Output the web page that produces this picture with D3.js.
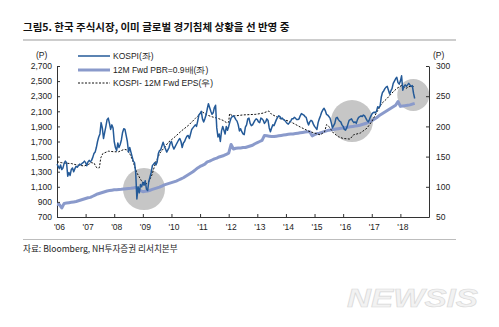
<!DOCTYPE html>
<html>
<head>
<meta charset="utf-8">
<script src="https://cdn.jsdelivr.net/npm/d3@7/dist/d3.min.js"></script>
<style>
  body { margin: 0; background: #fff; }
  svg { display: block; }
</style>
</head>
<body>
<svg id="chart" width="499" height="327"></svg>
<script>
// ---- data ----
const yearTicks = [2006, 2007, 2008, 2009, 2010, 2011, 2012, 2013, 2014, 2015, 2016, 2017, 2018];
const yearLabels = ["'06", "'07", "'08", "'09", "'10", "'11", "'12", "'13", "'14", "'15", "'16", "'17", "'18"];
const leftTicks = [700, 900, 1100, 1300, 1500, 1700, 1900, 2100, 2300, 2500, 2700];
const rightTicks = [50, 100, 150, 200, 250, 300];

// KOSPI, semi-monthly closes from Jan 2006
const kospiStart = 2006;
const kospiStep = 1 / 24;
const kospi = [
  1400, 1370, 1340, 1390, 1330, 1350, 1410, 1440, 1420, 1240, 1290, 1250, 1330, 1350, 1300, 1340, 1370, 1360, 1380, 1400, 1390, 1410, 1420, 1440,
  1420, 1380, 1430, 1450, 1430, 1450, 1490, 1540, 1560, 1620, 1700, 1760, 1800, 1950, 1880, 1740, 1820, 1900, 1990, 2010, 1940, 1860, 1920, 1880,
  1700, 1620, 1580, 1680, 1620, 1660, 1720, 1820, 1870, 1860, 1780, 1700, 1560, 1620, 1560, 1500, 1440, 1420, 1290, 940, 1100, 1020, 1130, 1100,
  1160, 1120, 1180, 1070, 1050, 1170, 1230, 1290, 1380, 1400, 1420, 1390, 1430, 1540, 1580, 1590, 1640, 1690, 1640, 1600, 1560, 1590, 1620, 1680,
  1700, 1640, 1600, 1630, 1660, 1690, 1720, 1740, 1700, 1620, 1680, 1700, 1740, 1770, 1780, 1740, 1800, 1860, 1880, 1900, 1920, 1900, 1970, 2050,
  2070, 2100, 2000, 1960, 2000, 2050, 2130, 2200, 2150, 2100, 2060, 2080, 2150, 2180, 1880, 1760, 1800, 1700, 1840, 1900, 1850, 1800, 1900, 1850,
  1900, 1960, 2010, 2030, 2040, 2020, 1990, 1970, 1920, 1840, 1870, 1830, 1800, 1790, 1890, 1920, 2000, 2010, 1940, 1910, 1920, 1950, 1980, 2000,
  1990, 1960, 1950, 2010, 2000, 1980, 1940, 1960, 2000, 1980, 1880, 1830, 1880, 1920, 1910, 1950, 1990, 2020, 2040, 2030, 2000, 2010, 1990, 1980,
  1960, 1940, 1930, 1950, 1970, 2000, 2000, 2020, 2010, 1990, 1990, 2000, 2040, 2070, 2060, 2050, 2030, 2020, 1960, 1920, 1960, 1980, 1970, 1930,
  1900, 1880, 1860, 1950, 2000, 2040, 2090, 2120, 2140, 2110, 2060, 2050, 2030, 2010, 1950, 1880, 1910, 1940, 2010, 2020, 1990, 1970, 1960, 1920,
  1900, 1860, 1850, 1880, 1930, 1980, 1990, 2000, 1970, 1950, 1960, 1940, 1990, 2020, 2030, 2040, 2030, 2050, 2040, 2010, 1980, 1960, 1990, 2030,
  2060, 2080, 2090, 2080, 2100, 2160, 2150, 2170, 2290, 2350, 2370, 2400, 2420, 2430, 2380, 2330, 2370, 2400, 2470, 2500, 2530, 2550, 2480, 2460,
  2500, 2570, 2380, 2430, 2450, 2430, 2450, 2470, 2450, 2430, 2440, 2340, 2270
];

// KOSPI level at 12M forward PBR 0.9x, monthly from Jan 2006
const pbrStart = 2006;
const pbrStep = 1 / 12;
const pbr = [
  870, 865, 820, 880, 885, 890, 895, 900, 905, 915, 925, 935,
  945, 955, 960, 975, 990, 1005, 1015, 1025, 1035, 1045, 1050, 1055,
  1060, 1062, 1065, 1068, 1072, 1075, 1078, 1080, 1085, 1090, 1070, 1050,
  1035, 1040, 1045, 1055, 1065, 1075, 1085, 1095, 1110, 1125, 1135, 1145,
  1155, 1165, 1175, 1190, 1205, 1220, 1240, 1260, 1280, 1300, 1325, 1350,
  1370, 1385, 1400, 1430, 1440, 1455, 1470, 1480, 1495, 1505, 1515, 1530,
  1545, 1660, 1600, 1610, 1615, 1615, 1620, 1620, 1630, 1640, 1650, 1670,
  1685, 1700, 1715, 1780, 1775, 1770, 1765, 1765, 1770, 1775, 1780, 1785,
  1790, 1795, 1800, 1800, 1805, 1810, 1815, 1820, 1825, 1830, 1830, 1775,
  1790, 1805, 1810, 1820, 1830, 1840, 1850, 1855, 1860, 1865, 1870, 1875,
  1880, 1885, 1890, 1895, 1900, 1905, 1910, 1915, 1925, 1935, 1945, 1960,
  1975, 1995, 2015, 2040, 2060, 2080, 2100, 2120, 2140, 2160, 2180, 2230,
  2165, 2170, 2175, 2180, 2185, 2195, 2205
];

// KOSPI 12M forward EPS (right axis), [year, value]
const eps = [
  [2006.00, 141.5], [2006.15, 140], [2006.30, 139], [2006.50, 138.5], [2006.70, 136], [2006.95, 134.5],
  [2007.10, 137], [2007.20, 140], [2007.30, 139], [2007.36, 133], [2007.42, 131], [2007.48, 131.5],
  [2007.53, 148], [2007.60, 155], [2007.80, 159], [2008.00, 158], [2008.15, 158], [2008.35, 162],
  [2008.45, 161], [2008.55, 154], [2008.65, 143], [2008.78, 124], [2008.95, 110], [2009.10, 104],
  [2009.20, 108], [2009.32, 120], [2009.45, 141], [2009.60, 156], [2009.75, 165], [2009.90, 174],
  [2010.13, 183], [2010.36, 193], [2010.60, 202], [2010.83, 213], [2011.00, 221], [2011.08, 224],
  [2011.24, 219], [2011.41, 216], [2011.64, 213], [2011.80, 210], [2011.93, 206], [2012.00, 207],
  [2012.03, 221], [2012.15, 217], [2012.50, 219], [2012.95, 220], [2013.20, 222], [2013.40, 225.5],
  [2013.50, 220], [2013.80, 213], [2014.15, 208], [2014.50, 199], [2014.80, 192], [2015.00, 189],
  [2015.20, 186], [2015.35, 191], [2015.42, 203], [2015.50, 200], [2015.66, 189], [2015.83, 183],
  [2016.00, 180], [2016.24, 179], [2016.36, 186], [2016.60, 189], [2016.83, 197], [2017.00, 208],
  [2017.18, 224], [2017.35, 238], [2017.53, 246], [2017.70, 255], [2017.88, 263], [2018.05, 268],
  [2018.20, 263], [2018.30, 266], [2018.46, 266]
];

// shaded call-outs: [year, left-axis level]
const highlights = [[2009.04, 1070], [2016.31, 1970], [2018.45, 2316]];
const highlightRadius = [21, 21, 16];

const legendItems = ["KOSPI(좌)", "12M Fwd PBR=0.9배(좌)", "KOSPI- 12M Fwd EPS(우)"];

// ---- drawing ----
const svg = d3.select("#chart");
const latin = "'Liberation Sans Narrow', 'Liberation Sans', Arial, sans-serif";
const korean = "'Noto Sans CJK KR', sans-serif";

const x = d3.scaleLinear().domain([2006, 2019]).range([57, 429]);
const yL = d3.scaleLinear().domain([700, 2700]).range([217, 66]);
const yR = d3.scaleLinear().domain([50, 300]).range([217, 66]);

// title and rules
svg.append("text")
  .attr("x", 23).attr("y", 31)
  .attr("font-family", korean).attr("font-weight", 700).attr("font-size", 10.5)
  .attr("fill", "#111")
  .text("그림5. 한국 주식시장, 이미 글로벌 경기침체 상황을 선 반영 중");
svg.append("line").attr("x1", 23).attr("x2", 456).attr("y1", 40).attr("y2", 40)
  .attr("stroke", "#bdbdbd").attr("stroke-width", 1.5);
svg.append("line").attr("x1", 23).attr("x2", 456).attr("y1", 239.5).attr("y2", 239.5)
  .attr("stroke", "#bdbdbd").attr("stroke-width", 1.2);
svg.append("text")
  .attr("x", 23).attr("y", 252)
  .attr("font-family", korean).attr("font-size", 8.6)
  .attr("fill", "#222")
  .text("자료: Bloomberg, NH투자증권 리서치본부");

// call-out circles sit behind the series
svg.append("g").selectAll("circle").data(highlights).join("circle")
  .attr("cx", d => x(d[0])).attr("cy", d => yL(d[1]))
  .attr("r", (d, i) => highlightRadius[i])
  .attr("fill", "#c6c6c6");

// axes
const axisFont = g => g.selectAll("text")
  .attr("font-family", latin).attr("font-size", 8.5).attr("fill", "#222");

const gx = svg.append("g").attr("transform", "translate(0,217)")
  .call(d3.axisBottom(x).tickValues(yearTicks).tickSizeInner(-3).tickSizeOuter(0)
    .tickPadding(7).tickFormat((d, i) => yearLabels[i]));
gx.call(axisFont);
gx.selectAll("text").attr("dx", 2);

const gl = svg.append("g").attr("transform", "translate(57,0)")
  .call(d3.axisLeft(yL).tickValues(leftTicks).tickSizeInner(-3).tickSizeOuter(0)
    .tickPadding(5).tickFormat(d3.format(",")));
gl.call(axisFont);

const gr = svg.append("g").attr("transform", "translate(429,0)")
  .call(d3.axisRight(yR).tickValues(rightTicks).tickSizeInner(-3).tickSizeOuter(0)
    .tickPadding(7));
gr.call(axisFont);

[gx, gl, gr].forEach(g => {
  g.selectAll("path.domain").attr("stroke", "#333").attr("stroke-width", 1);
  g.selectAll(".tick line").attr("stroke", "#333");
});

svg.append("text").attr("x", 36).attr("y", 58)
  .attr("font-family", latin).attr("font-size", 8.5).attr("fill", "#222").text("(P)");
svg.append("text").attr("x", 433).attr("y", 58)
  .attr("font-family", latin).attr("font-size", 8.5).attr("fill", "#222").text("(P)");

// series
const pbrLine = d3.line().x((d, i) => x(pbrStart + i * pbrStep)).y(d => yL(d));
const kospiLine = d3.line().x((d, i) => x(kospiStart + i * kospiStep)).y(d => yL(d));
const epsLine = d3.line().x(d => x(d[0])).y(d => yR(d[1]));

svg.append("path").datum(pbr).attr("d", pbrLine)
  .attr("fill", "none").attr("stroke", "#8a9acb").attr("stroke-width", 3)
  .attr("stroke-linejoin", "round");
svg.append("path").datum(eps).attr("d", epsLine)
  .attr("fill", "none").attr("stroke", "#111").attr("stroke-width", 1)
  .attr("stroke-dasharray", "2,1.5");
svg.append("path").datum(kospi).attr("d", kospiLine)
  .attr("fill", "none").attr("stroke", "#245a98").attr("stroke-width", 1.5)
  .attr("stroke-linejoin", "round");

// legend
const legendStyles = [
  { stroke: "#245a98", width: 1.5, dash: null },
  { stroke: "#8a9acb", width: 3, dash: null },
  { stroke: "#111", width: 1, dash: "2,1.5" }
];
const legendY = [56, 70, 83];
const lg = svg.append("g");
legendItems.forEach((name, i) => {
  lg.append("line").attr("x1", 78).attr("x2", 110)
    .attr("y1", legendY[i]).attr("y2", legendY[i])
    .attr("stroke", legendStyles[i].stroke).attr("stroke-width", legendStyles[i].width)
    .attr("stroke-dasharray", legendStyles[i].dash);
  lg.append("text").attr("x", 113).attr("y", legendY[i] + 3)
    .attr("font-family", latin).attr("font-size", 8.5).attr("fill", "#222")
    .text(name);
});

// agency mark
svg.append("text")
  .attr("x", 347).attr("y", 307)
  .attr("font-family", "'Liberation Sans', Arial, sans-serif")
  .attr("font-weight", 700).attr("font-style", "italic").attr("font-size", 25)
  .attr("textLength", 131).attr("lengthAdjust", "spacingAndGlyphs")
  .attr("fill", "#f2f2f2").attr("stroke", "#d8d8d8").attr("stroke-width", 0.6)
  .text("NEWSIS");
</script>
</body>
</html>
